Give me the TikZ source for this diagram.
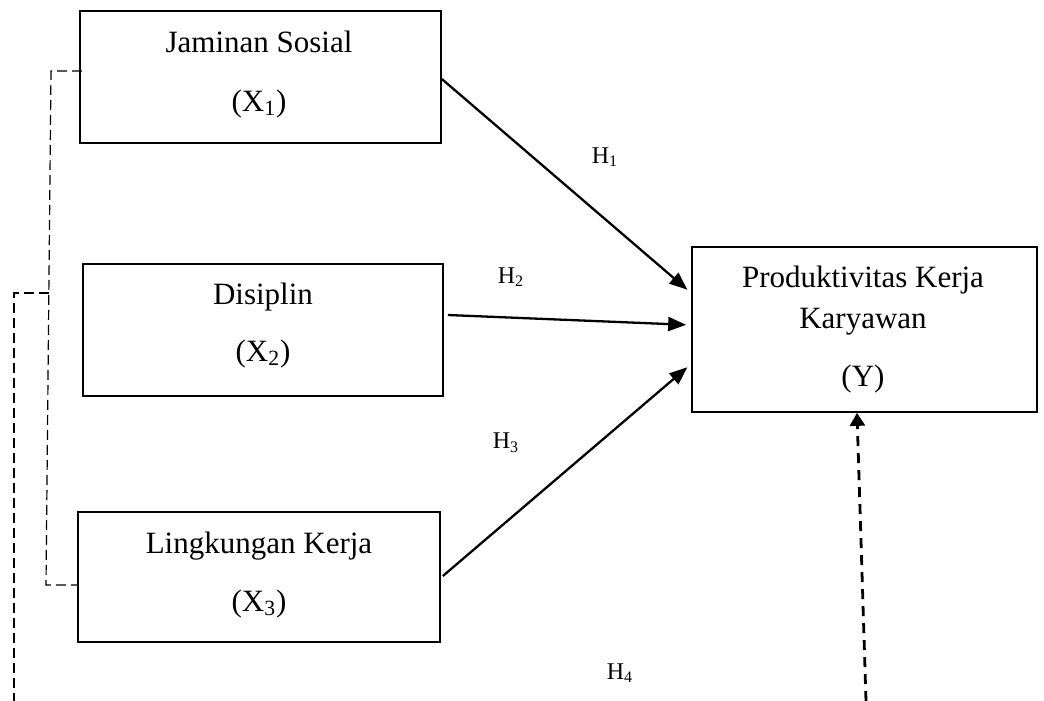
\documentclass[tikz,border=0pt]{standalone}
\usepackage{fontspec}
\setmainfont{Liberation Serif}
\usetikzlibrary{arrows.meta,calc}
\begin{document}
\begin{tikzpicture}[x=0.5pt,y=-0.5pt,
  box/.style={draw,line width=0.85pt,rectangle,inner sep=0pt},
  boxtext/.style={font=\fontsize{15.5}{18}\selectfont,inner sep=0pt},
  hlabel/.style={font=\fontsize{12}{14}\selectfont,inner sep=0pt},
  arr/.style={line width=1.15pt,-{Triangle[length=9pt,width=7pt]}},
  darr/.style={line width=1.4pt,dash pattern=on 5pt off 3.5pt,-{Triangle[length=6.5pt,width=7.5pt]}},
  link/.style={line width=0.6pt,dash pattern=on 5pt off 2.5pt}]
\useasboundingbox (0,0) rectangle (1044,701);
% boxes
\node[box,minimum width=180.5pt,minimum height=66pt] (b1) at (260.5,77) {};
\node[box,minimum width=180pt,minimum height=66pt] (b2) at (263,330) {};
\node[box,minimum width=181pt,minimum height=65pt] (b3) at (259,577) {};
\node[box,minimum width=172.5pt,minimum height=82.5pt] (y) at (864.5,329.5) {};
% box texts
\node[boxtext] (t1a) at (259,42) {Jaminan Sosial};
\node[boxtext] (t1b) at (259,104) {(X\textsubscript{1})};
\node[boxtext] (t2a) at (263,297) {Disiplin};
\node[boxtext] (t2b) at (263,354) {(X\textsubscript{2})};
\node[boxtext] (t3a) at (259,546) {Lingkungan Kerja};
\node[boxtext] (t3b) at (259,604) {(X\textsubscript{3})};
\node[boxtext] (tya) at (863,280) {Produktivitas Kerja};
\node[boxtext] (tyb) at (863,322) {Karyawan};
\node[boxtext] (tyc) at (863,379) {(Y)};
% hypothesis labels
\node[hlabel] (h1) at (605,157) {H\textsubscript{1}};
\node[hlabel] (h2) at (511,277) {H\textsubscript{2}};
\node[hlabel] (h3) at (506,443) {H\textsubscript{3}};
\node[hlabel] (h4) at (620,673) {H\textsubscript{4}};
% arrows
\draw[arr,shorten >=2.5pt] ([yshift=-1pt]b1.east) -- ([yshift=18.25pt]y.west);
\draw[arr,shorten >=2.5pt] ([xshift=2pt,yshift=7.5pt]b2.east) -- ([yshift=2.25pt]y.west);
\draw[arr,shorten >=2.5pt] ([xshift=1pt,yshift=0.5pt]b3.east) -- ([yshift=-17.25pt]y.west);
\coordinate (dy) at (866,701);
\draw[darr] (dy) -- ([xshift=-3.75pt]y.south);
% dashed links
\coordinate (p1) at (51,71);
\coordinate (p2) at (46,585);
\coordinate (jn) at (48.8,293);
\coordinate (p3) at (14,293);
\coordinate (p4) at (14,701);
\draw[link] ([xshift=1.5pt,yshift=3pt]b1.west) -- (p1) -- (p2) -- ([yshift=-4pt]b3.west);
\draw[link] (jn) -- (p3) -- (p4);
\end{tikzpicture}
\end{document}
